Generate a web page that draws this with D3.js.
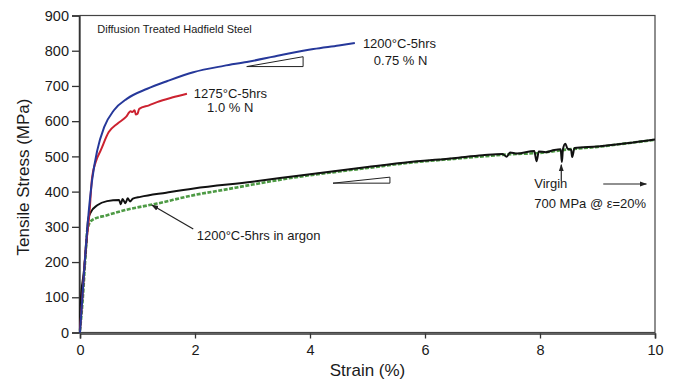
<!DOCTYPE html>
<html>
<head>
<meta charset="utf-8">
<script src="https://cdn.jsdelivr.net/npm/d3@7"></script>
<style>
  body { margin: 0; background: #fff; }
  svg { display: block; font-family: "Liberation Sans", Arial, sans-serif; }
</style>
</head>
<body>
<svg id="chart" width="675" height="380"></svg>
<script>
// --- data: [strain %, stress MPa] ---
const blue = [[0,0],[0.05,120],[0.1,240],[0.15,340],[0.21,432],[0.3,517],[0.42,583],[0.59,631],[0.82,664],[1.17,692],[1.52,714],[1.97,739],[2.5,757],[2.9,768],[3.48,787],[4.06,805],[4.5,815],[4.78,822]];
const red = [[0,5],[0.05,120],[0.1,240],[0.16,330],[0.21,440],[0.28,487],[0.36,517],[0.5,569],[0.65,593],[0.8,612],[0.88,628],[0.91,626],[0.95,631],[0.97,619],[1.0,621],[1.03,635],[1.2,645],[1.34,654],[1.6,667],[1.86,678]];
const black = [[0,10],[0.01,83],[0.07,177],[0.12,272],[0.14,320],[0.19,342],[0.3,361],[0.47,373],[0.68,376],[0.71,364],[0.74,379],[0.79,367],[0.83,381],[0.87,372],[0.92,380],[1.05,385],[1.5,397],[1.98,409],[3,428],[3.83,446],[5,470],[5.74,484],[6.5,495],[7,503],[7.35,507],[7.42,499],[7.48,511],[7.6,508],[7.9,515],[7.94,486],[7.98,514],[8.1,512],[8.25,518],[8.36,520],[8.38,484],[8.4,521],[8.44,536],[8.48,522],[8.54,519],[8.56,498],[8.6,524],[9,528],[9.5,537],[10,548]];
const green = [[0,5],[0.05,100],[0.1,230],[0.13,295],[0.21,319],[0.47,333],[0.77,347],[1.34,366],[1.98,390],[2.5,405],[3,420],[3.8,442],[4.5,457],[5,467],[5.74,482],[6.5,493],[7,500],[7.5,506],[8,510],[8.5,520],[9,527],[9.5,537],[10,547]];

const xTicks = [0, 2, 4, 6, 8, 10];
const yTicks = [0, 100, 200, 300, 400, 500, 600, 700, 800, 900];

const svg = d3.select("#chart");
const x = d3.scaleLinear().domain([0, 10]).range([80, 655]);
const y = d3.scaleLinear().domain([0, 900]).range([332.5, 15.5]);

// defs: arrowheads
const defs = svg.append("defs");
defs.append("marker")
  .attr("id", "arrow")
  .attr("viewBox", "0 0 10 10")
  .attr("refX", 9).attr("refY", 5)
  .attr("markerWidth", 6).attr("markerHeight", 6)
  .attr("orient", "auto")
  .append("path").attr("d", "M0,1.5L10,5L0,8.5Z").attr("fill", "#222");

// frame
svg.append("rect")
  .attr("x", x(0)).attr("y", y(900))
  .attr("width", x(10) - x(0)).attr("height", y(0) - y(900))
  .attr("fill", "none").attr("stroke", "#444").attr("stroke-width", 1.2);

// axes
const yAxis = svg.append("g")
  .attr("transform", `translate(${x(0) - 1},0)`)
  .call(d3.axisLeft(y).tickValues(yTicks).tickSize(7).tickPadding(3));
const xAxis = svg.append("g")
  .attr("transform", `translate(0,${y(0) + 1})`)
  .call(d3.axisBottom(x).tickValues(xTicks).tickSize(5).tickPadding(6));
[yAxis, xAxis].forEach((a) => {
  a.select(".domain").attr("stroke", "#333").attr("stroke-width", 1.5);
  a.selectAll(".tick line").attr("stroke", "#333").attr("stroke-width", 1.3);
  a.selectAll(".tick text")
    .attr("fill", "#1a1a1a")
    .attr("font-size", "14.5px")
    .attr("font-family", "Liberation Sans, Arial, sans-serif");
});

// axis titles
svg.append("text")
  .attr("x", (x(0) + x(10)) / 2).attr("y", 376)
  .attr("text-anchor", "middle")
  .attr("font-size", "17px").attr("fill", "#1a1a1a")
  .text("Strain (%)");
svg.append("text")
  .attr("transform", `translate(29,${(y(0) + y(900)) / 2 + 3}) rotate(-90)`)
  .attr("text-anchor", "middle")
  .attr("font-size", "17px").attr("fill", "#1a1a1a")
  .text("Tensile Stress (MPa)");

// curves
const line = d3.line().curve(d3.curveMonotoneX).x((d) => x(d[0])).y((d) => y(d[1]));
svg.append("path").datum(green)
  .attr("d", line).attr("fill", "none")
  .attr("stroke", "#4d9a44").attr("stroke-width", 2.6)
  .attr("stroke-dasharray", "4,1.5");
svg.append("path").datum(black)
  .attr("d", line).attr("fill", "none")
  .attr("stroke", "#111").attr("stroke-width", 2);
svg.append("path").datum(red)
  .attr("d", line).attr("fill", "none")
  .attr("stroke", "#cc2230").attr("stroke-width", 2);
svg.append("path").datum(blue)
  .attr("d", line).attr("fill", "none")
  .attr("stroke", "#26389a").attr("stroke-width", 2);

// --- annotations (data coordinates) ---
function label(sx, sv, txt, size) {
  svg.append("text")
    .attr("x", x(sx)).attr("y", y(sv))
    .attr("font-size", size || "13px").attr("fill", "#1a1a1a")
    .text(txt);
}
label(0.3, 850, "Diffusion Treated Hadfield Steel", "11px");
label(4.92, 808, "1200°C-5hrs");
label(5.11, 760, "0.75 % N");
label(1.98, 666, "1275°C-5hrs");
label(2.21, 626, "1.0 % N");
label(2.03, 263, "1200°C-5hrs in argon");
label(7.9, 410, "Virgin");
label(7.9, 354, "700 MPa @ ε=20%");

// slope triangles
const tri = d3.line().x((d) => x(d[0])).y((d) => y(d[1]));
svg.append("path")
  .attr("d", tri([[2.9, 755], [3.88, 783], [3.88, 755]]) + "Z")
  .attr("fill", "none").attr("stroke", "#222").attr("stroke-width", 1);
svg.append("path")
  .attr("d", tri([[4.4, 424], [5.39, 441], [5.39, 424]]) + "Z")
  .attr("fill", "none").attr("stroke", "#222").attr("stroke-width", 1);

// pointer lines
svg.append("line")
  .attr("x1", x(1.97)).attr("y1", y(294))
  .attr("x2", x(1.25)).attr("y2", y(362))
  .attr("stroke", "#222").attr("stroke-width", 1.2)
  .attr("marker-end", "url(#arrow)");
svg.append("line")
  .attr("x1", x(8.37)).attr("y1", y(430))
  .attr("x2", x(8.37)).attr("y2", y(476))
  .attr("stroke", "#222").attr("stroke-width", 1.2)
  .attr("marker-end", "url(#arrow)");
svg.append("line")
  .attr("x1", x(9.1)).attr("y1", y(421.6))
  .attr("x2", x(9.85)).attr("y2", y(421.6))
  .attr("stroke", "#222").attr("stroke-width", 1.2)
  .attr("marker-end", "url(#arrow)");
</script>
</body>
</html>
